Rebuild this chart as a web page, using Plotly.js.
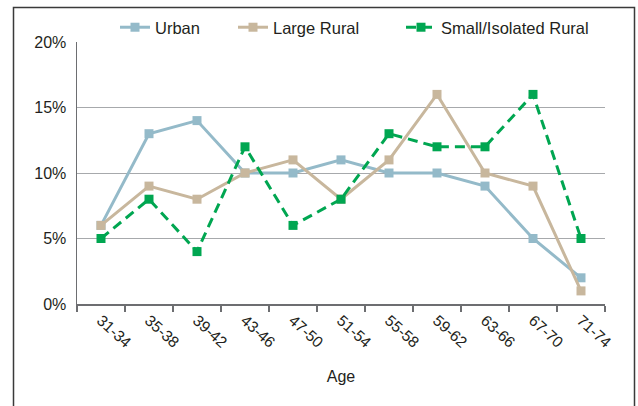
<!DOCTYPE html>
<html>
<head>
<meta charset="utf-8">
<script src="https://cdn.plot.ly/plotly-3.0.1.min.js"></script>
<style>
html,body{margin:0;padding:0;background:#fff;}
#chart{width:638px;height:406px;}
</style>
</head>
<body>
<div id="chart"></div>
<script>
const ageGroups = ["31-34","35-38","39-42","43-46","47-50","51-54","55-58","59-62","63-66","67-70","71-74"];
const urban = [6, 13, 14, 10, 10, 11, 10, 10, 9, 5, 2];
const largeRural = [6, 9, 8, 10, 11, 8, 11, 16, 10, 9, 1];
const smallRural = [5, 8, 4, 12, 6, 8, 13, 12, 12, 16, 5];
const yTickVals = [0, 5, 10, 15, 20];
const yTickText = ["0%", "5%", "10%", "15%", "20%"];

const traces = [
  {x: ageGroups, y: urban, name: "Urban", type: "scatter", mode: "lines+markers", legend: "legend",
   line: {color: "#94bac9", width: 3}, marker: {symbol: "square", size: 9, color: "#94bac9"}},
  {x: ageGroups, y: largeRural, name: "Large Rural", type: "scatter", mode: "lines+markers", legend: "legend2",
   line: {color: "#c8b79d", width: 3}, marker: {symbol: "square", size: 9, color: "#c8b79d"}},
  {x: ageGroups, y: smallRural, name: "Small/Isolated Rural", type: "scatter", mode: "lines+markers", legend: "legend3",
   line: {color: "#00a651", width: 3, dash: "10px,6px"}, marker: {symbol: "square", size: 9, color: "#00a651"}}
];

function legendAt(px) {
  return {orientation: "h", x: (px - 77) / 528, xanchor: "left", y: (304 - 27.5) / 262, yanchor: "middle",
          font: {size: 16.5, color: "#231f20"}, bgcolor: "rgba(0,0,0,0)", itemwidth: 30};
}

const layout = {
  width: 638, height: 406,
  margin: {l: 77, r: 33, t: 42, b: 102, autoexpand: false},
  paper_bgcolor: "#fff", plot_bgcolor: "#fff",
  font: {family: "Liberation Sans, Arial, sans-serif", size: 16, color: "#231f20"},
  showlegend: true,
  legend: legendAt(115),
  legend2: legendAt(233),
  legend3: legendAt(401),
  xaxis: {
    type: "category", range: [-0.5, 10.5], tickangle: 42,
    ticks: "outside", tickson: "boundaries", ticklen: 6, tickcolor: "#6d6e71", tickwidth: 1.2,
    showline: true, linecolor: "#6d6e71", linewidth: 1.5, showgrid: false,
    tickfont: {size: 15.5},
    title: {text: "Age", font: {size: 16}, standoff: 20}
  },
  yaxis: {
    range: [0, 20], tickvals: yTickVals, ticktext: yTickText,
    showgrid: true, gridcolor: "#a7a9ac", gridwidth: 1,
    showline: true, linecolor: "#6d6e71", linewidth: 1.5, zeroline: false,
    ticks: "", ticklabelstandoff: 6, tickfont: {size: 16}
  },
  shapes: [
    {type: "rect", xref: "paper", yref: "paper",
     x0: (13.5-77)/528, x1: (634.5-77)/528, y0: (304-412)/262, y1: (304-7.5)/262,
     line: {color: "#3a3a3a", width: 1.5}, fillcolor: "rgba(0,0,0,0)", layer: "below"}
  ]
};

Plotly.newPlot("chart", traces, layout, {displayModeBar: false, staticPlot: true});
</script>
</body>
</html>
